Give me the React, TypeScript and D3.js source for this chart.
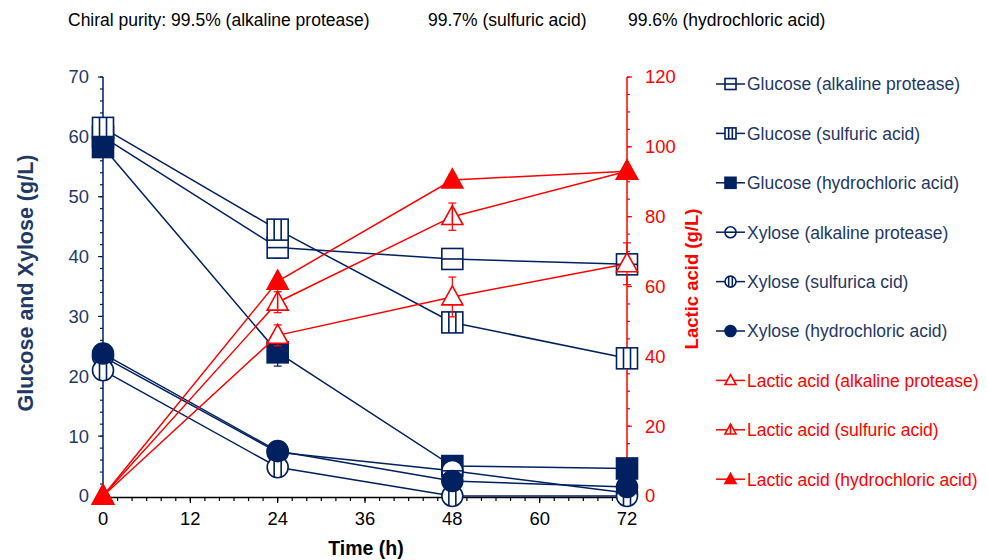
import React from 'react'
import * as d3 from 'd3'

const times = [0, 24, 48, 72]

const glucoseAlk = [60, 41.5, 39.6, 38.7]
const glucoseAlkErr = [0.8, 1.8, 0.5, 0.8]
const glucoseSulf = [61.5, 44.5, 29, 23]
const glucoseSulfErr = [0.8, 1, 0.6, 0.6]
const glucoseHcl = [58.3, 24, 5, 4.6]
const glucoseHclErr = [0.6, 2.3, 0.4, 0.3]

const xyloseAlk = [23.3, 7.3, 4.2, 0.5]
const xyloseSulf = [21, 4.8, 0, 0]
const xyloseHcl = [23.8, 7.5, 2.5, 1.5]

const lacticAlk = [0, 46, 57, 66.5]
const lacticAlkErr = [0, 3, 5.7, 6]
const lacticSulf = [0, 55.5, 80, 93]
const lacticSulfErr = [0, 3, 3.9, 1]
const lacticHcl = [0, 61.5, 90.5, 93]
const lacticHclErr = [0, 1, 1.5, 1]

const xTicks = [0, 12, 24, 36, 48, 60, 72]
const leftTicks = [0, 10, 20, 30, 40, 50, 60, 70]
const rightTicks = [0, 20, 40, 60, 80, 100, 120]

const NAVY = '#002060'
const NAVY_TEXT = '#1F3864'
const RED = '#FF0000'
const FONT = 'Arial, "Liberation Sans", sans-serif'

type Kind = 'sqH' | 'sqV' | 'sqF' | 'cH' | 'cV' | 'cF' | 'tO' | 'tV' | 'tF'

interface Series {
  name: string
  values: number[]
  err?: number[]
  kind: Kind
  color: string
  axis: 'left' | 'right'
}

const series: Series[] = [
  { name: 'Glucose (alkaline protease)', values: glucoseAlk, err: glucoseAlkErr, kind: 'sqH', color: NAVY, axis: 'left' },
  { name: 'Glucose (sulfuric acid)', values: glucoseSulf, err: glucoseSulfErr, kind: 'sqV', color: NAVY, axis: 'left' },
  { name: 'Glucose (hydrochloric acid)', values: glucoseHcl, err: glucoseHclErr, kind: 'sqF', color: NAVY, axis: 'left' },
  { name: 'Xylose (alkaline protease)', values: xyloseAlk, kind: 'cH', color: NAVY, axis: 'left' },
  { name: 'Xylose (sulfurica cid)', values: xyloseSulf, kind: 'cV', color: NAVY, axis: 'left' },
  { name: 'Xylose (hydrochloric acid)', values: xyloseHcl, kind: 'cF', color: NAVY, axis: 'left' },
  { name: 'Lactic acid (alkaline protease)', values: lacticAlk, err: lacticAlkErr, kind: 'tO', color: RED, axis: 'right' },
  { name: 'Lactic acid (sulfuric acid)', values: lacticSulf, err: lacticSulfErr, kind: 'tV', color: RED, axis: 'right' },
  { name: 'Lactic acid (hydrochloric acid)', values: lacticHcl, err: lacticHclErr, kind: 'tF', color: RED, axis: 'right' },
]

function Marker({ kind, x, y, s, color }: { kind: Kind; x: number; y: number; s: number; color: string }) {
  const h = s / 2
  const sw = 1.6
  if (kind.startsWith('sq')) {
    return (
      <g>
        <rect x={x - h} y={y - h} width={s} height={s} fill={kind === 'sqF' ? color : '#fff'} stroke={color} strokeWidth={sw} />
        {kind === 'sqH' && <line x1={x - h} x2={x + h} y1={y} y2={y} stroke={color} strokeWidth={sw} />}
        {kind === 'sqV' && (
          <g stroke={color} strokeWidth={sw}>
            <line x1={x - s / 6} x2={x - s / 6} y1={y - h} y2={y + h} />
            <line x1={x + s / 6} x2={x + s / 6} y1={y - h} y2={y + h} />
          </g>
        )}
      </g>
    )
  }
  if (kind.startsWith('c')) {
    return (
      <g>
        <circle cx={x} cy={y} r={h} fill={kind === 'cF' ? color : '#fff'} stroke={color} strokeWidth={sw} />
        {kind === 'cH' && <line x1={x - h} x2={x + h} y1={y} y2={y} stroke={color} strokeWidth={sw} />}
        {kind === 'cV' && (
          <g stroke={color} strokeWidth={sw}>
            <line x1={x - s / 6} x2={x - s / 6} y1={y - h * 0.94} y2={y + h * 0.94} />
            <line x1={x + s / 6} x2={x + s / 6} y1={y - h * 0.94} y2={y + h * 0.94} />
          </g>
        )}
      </g>
    )
  }
  const top = y - h * 1.05
  const bot = y + h * 0.75
  const pts = `${x},${top} ${x + h},${bot} ${x - h},${bot}`
  return (
    <g>
      <polygon points={pts} fill={kind === 'tF' ? color : '#fff'} stroke={color} strokeWidth={sw} strokeLinejoin="miter" />
      {kind === 'tV' && <line x1={x} x2={x} y1={top} y2={bot} stroke={color} strokeWidth={sw} />}
    </g>
  )
}

export default function App() {
  const left = 103
  const right = 627
  const top = 77
  const bottom = 496

  const x = d3.scaleLinear().domain([0, 72]).range([left, right])
  const yL = d3.scaleLinear().domain([0, 70]).range([bottom, top])
  const yR = d3.scaleLinear().domain([0, 120]).range([bottom, top])

  const xMinor = d3.range(0, 73, 2)
  const lMinor = d3.range(0, 71, 2)
  const rMinor = d3.range(0, 121, 5)

  const line = (ys: d3.ScaleLinear<number, number>) =>
    d3.line<number>().x((_, i) => x(times[i])).y((v) => ys(v))

  const legendY0 = 84
  const legendStep = 49.4
  const tickFont = 18.4

  return (
    <svg width={987} height={560} style={{ position: 'absolute', left: 0, top: 0, background: '#fff' }} fontFamily={FONT}>
      <text x={68} y={26} fontSize={17.5} fill="#000">
        Chiral purity: 99.5% (alkaline protease)
      </text>
      <text x={428} y={26} fontSize={17.5} fill="#000">
        99.7% (sulfuric acid)
      </text>
      <text x={628} y={26} fontSize={17.5} fill="#000">
        99.6% (hydrochloric acid)
      </text>

      {/* left axis */}
      <line x1={left} x2={left} y1={top} y2={bottom} stroke={NAVY} strokeWidth={1.5} />
      {lMinor.map((t) => (
        <line key={'lm' + t} x1={left - 3} x2={left} y1={yL(t)} y2={yL(t)} stroke={NAVY} strokeWidth={1.2} />
      ))}
      {leftTicks.map((t) => (
        <g key={'lt' + t}>
          <line x1={left - 5} x2={left} y1={yL(t)} y2={yL(t)} stroke={NAVY} strokeWidth={1.2} />
          <text x={left - 14} y={yL(t)} dy="0.35em" textAnchor="end" fontSize={tickFont} fill={NAVY_TEXT}>
            {t}
          </text>
        </g>
      ))}
      <text transform={`translate(33,283) rotate(-90)`} textAnchor="middle" fontSize={21.5} fontWeight="bold" fill={NAVY_TEXT}>
        Glucose and Xylose (g/L)
      </text>

      {/* right axis */}
      <line x1={right} x2={right} y1={top} y2={bottom} stroke={RED} strokeWidth={1.5} />
      {rMinor.map((t) => (
        <line key={'rm' + t} x1={right} x2={right + 3} y1={yR(t)} y2={yR(t)} stroke={RED} strokeWidth={1.2} />
      ))}
      {rightTicks.map((t) => (
        <g key={'rt' + t}>
          <line x1={right} x2={right + 5} y1={yR(t)} y2={yR(t)} stroke={RED} strokeWidth={1.2} />
          <text x={right + 18} y={yR(t)} dy="0.35em" textAnchor="start" fontSize={tickFont} fill={RED}>
            {t}
          </text>
        </g>
      ))}
      <text transform={`translate(698,279) rotate(-90)`} textAnchor="middle" fontSize={18.5} fontWeight="bold" fill={RED}>
        Lactic acid (g/L)
      </text>

      {/* x axis */}
      <line x1={left} x2={right} y1={bottom + 1.5} y2={bottom + 1.5} stroke="#000" strokeWidth={1.5} />
      {xMinor.map((t) => (
        <line key={'xm' + t} x1={x(t)} x2={x(t)} y1={bottom + 1.5} y2={bottom + 5} stroke="#000" strokeWidth={1.2} />
      ))}
      {xTicks.map((t) => (
        <g key={'xt' + t}>
          <line x1={x(t)} x2={x(t)} y1={bottom + 1.5} y2={bottom + 7} stroke="#000" strokeWidth={1.2} />
          <text x={x(t)} y={bottom + 29} textAnchor="middle" fontSize={tickFont} fill="#000">
            {t}
          </text>
        </g>
      ))}
      <text x={366} y={555} textAnchor="middle" fontSize={19.5} fontWeight="bold" fill="#000">
        Time (h)
      </text>

      {/* series */}
      {series.map((s) => {
        const ys = s.axis === 'left' ? yL : yR
        const size = 21
        return (
          <g key={s.name}>
            <path d={line(ys)(s.values) || ''} fill="none" stroke={s.color} strokeWidth={1.5} />
            {s.err &&
              s.values.map((v, i) =>
                s.err![i] > 0 ? (
                  <g key={i} stroke={s.color} strokeWidth={1.2}>
                    <line x1={x(times[i])} x2={x(times[i])} y1={ys(v - s.err![i])} y2={ys(v + s.err![i])} />
                    <line x1={x(times[i]) - 4} x2={x(times[i]) + 4} y1={ys(v - s.err![i])} y2={ys(v - s.err![i])} />
                    <line x1={x(times[i]) - 4} x2={x(times[i]) + 4} y1={ys(v + s.err![i])} y2={ys(v + s.err![i])} />
                  </g>
                ) : null
              )}
            {s.values.map((v, i) => (
              <Marker key={i} kind={s.kind} x={x(times[i])} y={ys(v)} s={size} color={s.color} />
            ))}
          </g>
        )
      })}

      {/* legend */}
      {series.map((s, i) => {
        const cy = legendY0 + i * legendStep
        return (
          <g key={'lg' + s.name}>
            <line x1={716} x2={745} y1={cy} y2={cy} stroke={s.color} strokeWidth={1.5} />
            <Marker kind={s.kind} x={730.5} y={cy} s={11} color={s.color} />
            <text x={747} y={cy} dy="0.36em" fontSize={17.5} fill={s.color === RED ? RED : NAVY_TEXT}>
              {s.name}
            </text>
          </g>
        )
      })}
    </svg>
  )
}
